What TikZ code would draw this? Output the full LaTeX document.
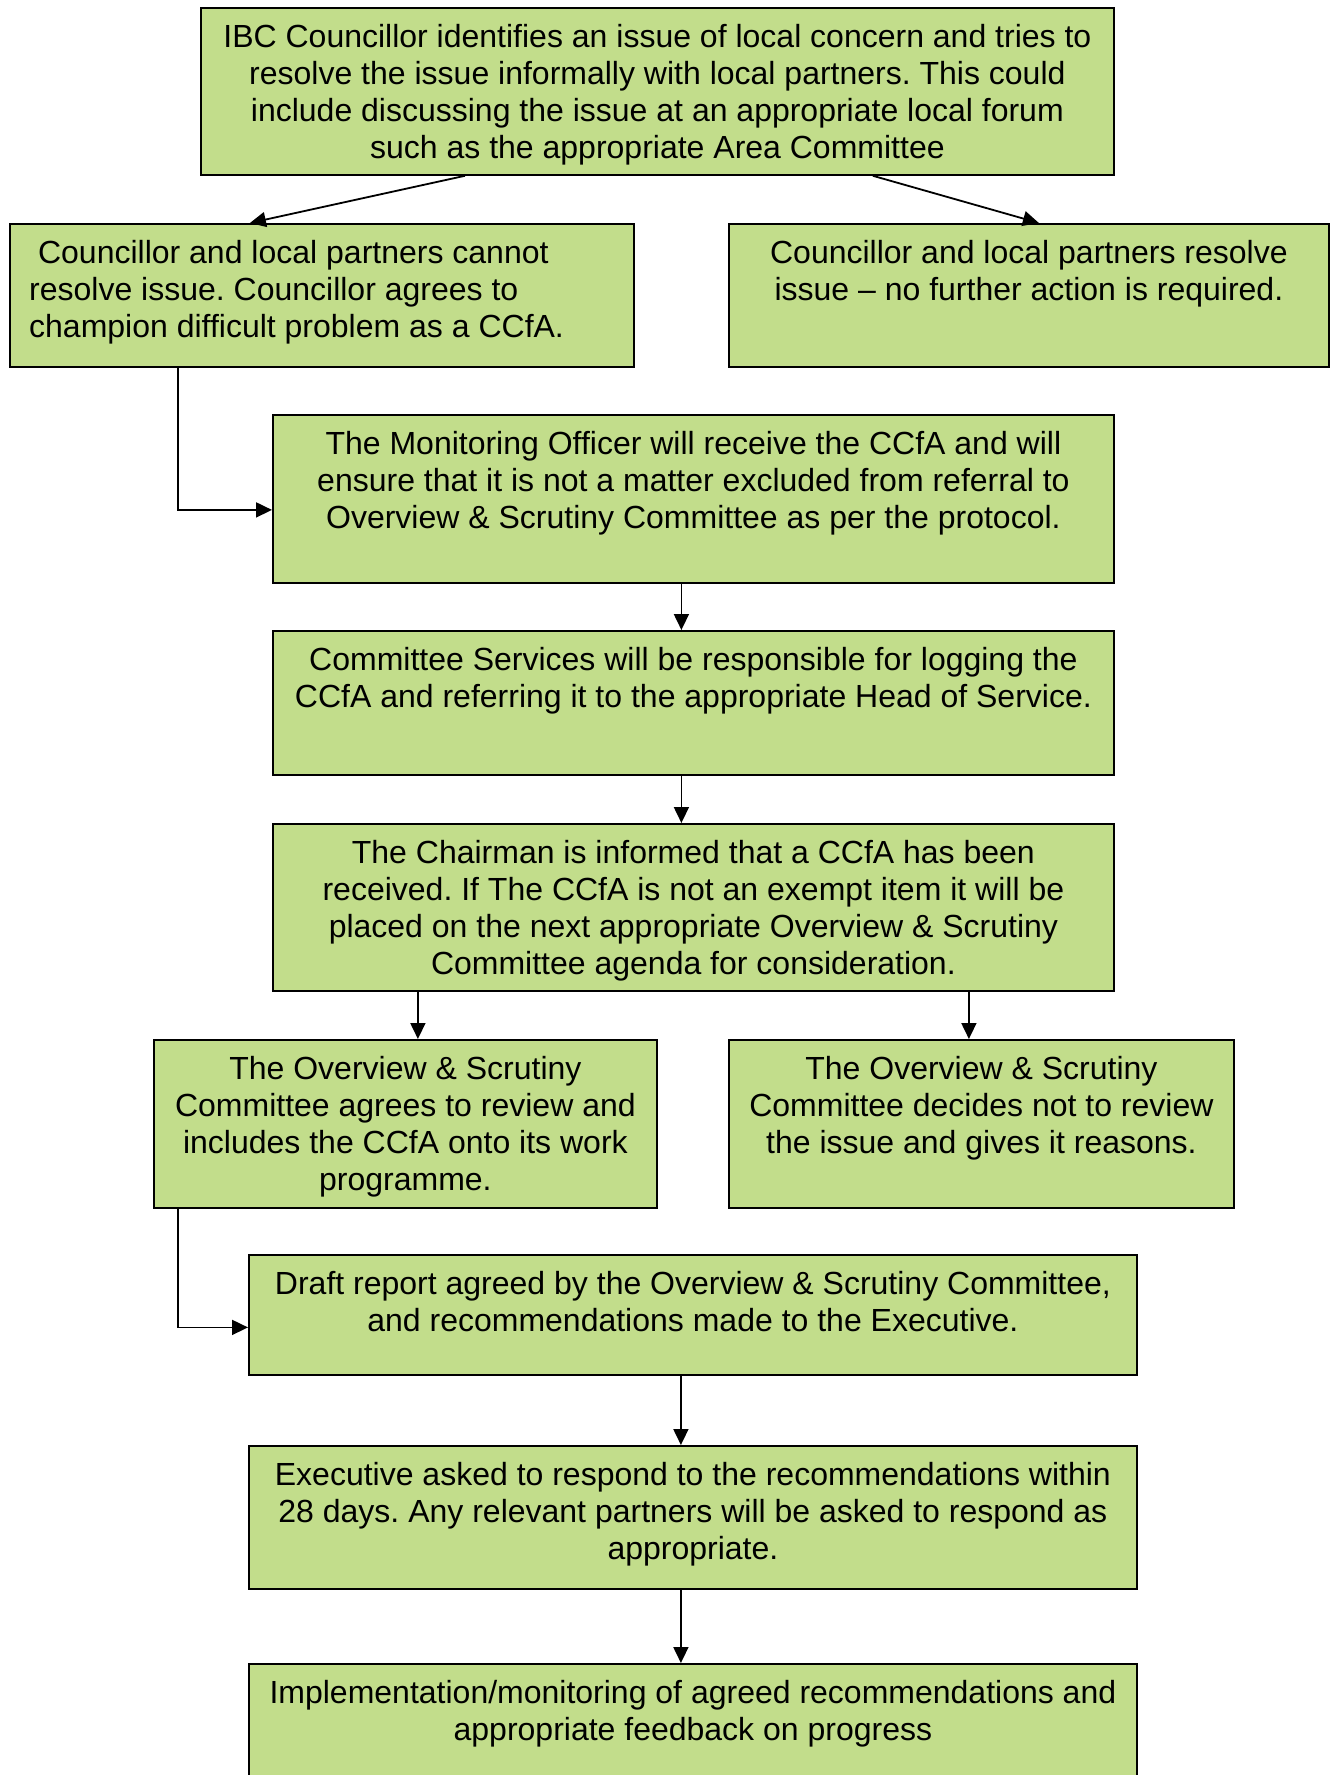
\documentclass[tikz,border=0pt]{standalone}
\usepackage{fontspec}
\setmainfont{Liberation Sans}
\usetikzlibrary{arrows.meta}
\frenchspacing
\definecolor{boxgreen}{RGB}{194,221,139}
\newcommand\fbtext[3]{\parbox[c][#2][t]{#1}{\centering\rule{0pt}{40bp}#3}}
\newcommand\fbleft[3]{\parbox[c][#2][t]{#1}{\raggedright\leftskip=19.3bp\rule{0pt}{40bp}#3}}
\begin{document}
\begin{tikzpicture}[x=1bp,y=-1bp,
  flowbox/.style={draw=black, fill=boxgreen, line width=1.8bp, inner sep=0pt, anchor=north west,
    font=\fontsize{32bp}{36.8bp}\selectfont},
  arr/.style={line width=1.8bp, -{Triangle[length=16bp,width=15bp]}}]
\useasboundingbox (0,0) rectangle (1330,1775);
\clip (0,0) rectangle (1330,1775);
\fill[white] (0,0) rectangle (1330,1775);

\node[flowbox] (top) at (200,7) {\fbtext{913bp}{167bp}{IBC Councillor identifies an issue of local concern and tries to\\ resolve the issue informally with local partners. This could\\ include discussing the issue at an appropriate local forum\\ such as the appropriate Area Committee}};

\node[flowbox] (left) at (9,223) {\fbleft{624bp}{143bp}{\hspace*{8.9bp}Councillor and local partners cannot\\ resolve issue. Councillor agrees to\\ champion difficult problem as a CCfA.}};

\node[flowbox] (right) at (728,223) {\fbtext{600bp}{143bp}{Councillor and local partners resolve\\ issue – no further action is required.}};

\node[flowbox] (mon) at (272,414) {\fbtext{841bp}{168bp}{The Monitoring Officer will receive the CCfA and will\\ ensure that it is not a matter excluded from referral to\\ Overview \& Scrutiny Committee as per the protocol.}};

\node[flowbox] (cs) at (272,630) {\fbtext{841bp}{144bp}{Committee Services will be responsible for logging the\\ CCfA and referring it to the appropriate Head of Service.}};

\node[flowbox] (chair) at (272,823) {\fbtext{841bp}{167bp}{The Chairman is informed that a CCfA has been\\ received. If The CCfA is not an exempt item it will be\\ placed on the next appropriate Overview \& Scrutiny\\ Committee agenda for consideration.}};

\node[flowbox] (osyes) at (153,1039) {\fbtext{503bp}{168bp}{The Overview \& Scrutiny\\ Committee agrees to review and\\ includes the CCfA onto its work\\ programme.}};

\node[flowbox] (osno) at (728,1039) {\fbtext{505bp}{168bp}{The Overview \& Scrutiny\\ Committee decides not to review\\ the issue and gives it reasons.}};

\node[flowbox] (draft) at (248,1254) {\fbtext{888bp}{120bp}{Draft report agreed by the Overview \& Scrutiny Committee,\\ and recommendations made to the Executive.}};

\node[flowbox] (exec) at (248,1445) {\fbtext{888bp}{143bp}{Executive asked to respond to the recommendations within\\ 28 days. Any relevant partners will be asked to respond as\\ appropriate.}};

\node[flowbox] (impl) at (248,1663) {\fbtext{888bp}{150bp}{Implementation/monitoring of agreed recommendations and\\ appropriate feedback on progress}};

\draw[arr] ([xshift=-192.5bp]top.south) -- ([xshift=-72bp]left.north);
\draw[arr] ([xshift=215.5bp]top.south) -- ([xshift=10bp]right.north);
\draw[arr] ([xshift=-144bp]left.south) |- ([yshift=-11bp]mon.west);
\draw[arr] ([xshift=-12bp]mon.south) -- ([xshift=-12bp]cs.north);
\draw[arr] ([xshift=-12bp]cs.south) -- ([xshift=-12bp]chair.north);
\draw[arr] ([xshift=-275.5bp]chair.south) -- ([xshift=-275.5bp]chair.south |- osyes.north);
\draw[arr] ([xshift=275.5bp]chair.south) -- ([xshift=275.5bp]chair.south |- osno.north);
\draw[arr] ([xshift=-227.5bp]osyes.south) |- ([yshift=-12.5bp]draft.west);
\draw[arr] ([xshift=-12bp]draft.south) -- ([xshift=-12bp]exec.north);
\draw[arr] ([xshift=-12bp]exec.south) -- ([xshift=-12bp]impl.north);
\end{tikzpicture}
\end{document}
